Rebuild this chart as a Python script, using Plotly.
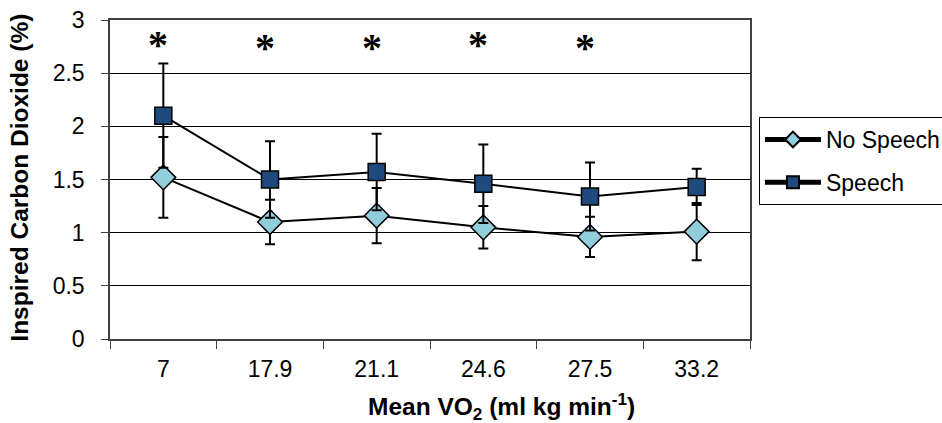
import plotly.graph_objects as go

categories = ["7", "17.9", "21.1", "24.6", "27.5", "33.2"]
no_speech = [1.52, 1.10, 1.16, 1.05, 0.96, 1.01]
no_speech_err = [0.38, 0.21, 0.26, 0.20, 0.19, 0.27]
speech = [2.10, 1.50, 1.57, 1.46, 1.34, 1.43]
speech_err = [0.49, 0.36, 0.36, 0.37, 0.32, 0.17]
star_categories = ["7", "17.9", "21.1", "24.6", "27.5"]
star_y = [2.77, 2.74, 2.74, 2.77, 2.74]

FONT = "Liberation Sans, Arial, sans-serif"

fig = go.Figure()
fig.add_trace(go.Scatter(
    x=categories, y=no_speech, name="No Speech", mode="lines+markers",
    legendgroup="a",
    line=dict(color="black", width=2),
    marker=dict(symbol="diamond", size=19, color="#92CDDC", line=dict(color="black", width=1.5)),
    error_y=dict(type="data", array=no_speech_err, visible=True, color="black", thickness=2, width=5),
))
fig.add_trace(go.Scatter(
    x=categories, y=speech, name="Speech", mode="lines+markers",
    legendgroup="b",
    line=dict(color="black", width=2),
    marker=dict(symbol="square", size=17, color="#1F4A7E", line=dict(color="black", width=1.5)),
    error_y=dict(type="data", array=speech_err, visible=True, color="black", thickness=2, width=5),
))

for c, yv in zip(star_categories, star_y):
    fig.add_annotation(x=categories.index(c), y=yv, text="<b>*</b>", showarrow=False,
                       xref="x", yref="y", xshift=-5,
                       font=dict(family="Liberation Serif, Times New Roman, serif", size=40, color="black"))

# axis titles as annotations (x title is centred on the whole chart area in the original)
fig.add_annotation(xref="paper", yref="paper", x=0.611, y=-0.213, xanchor="center", yanchor="middle",
                   text='<b>Mean VO<sub style="font-size:85%">2</sub> (ml kg min<sup>-1</sup>)</b>',
                   showarrow=False, font=dict(family=FONT, size=24.5, color="black"))
fig.add_annotation(xref="paper", yref="paper", x=-0.141, y=0.505, xanchor="center", yanchor="middle",
                   text="<b>Inspired Carbon Dioxide (%)</b>", showarrow=False, textangle=-90,
                   font=dict(family=FONT, size=24.5, color="black"))

fig.update_layout(
    width=942, height=423,
    margin=dict(l=110, r=192, t=20, b=84, autoexpand=False),
    paper_bgcolor="white", plot_bgcolor="white",
    font=dict(family=FONT, size=22, color="black"),
    showlegend=True,
    legend=dict(
        x=1.014, y=0.696, xanchor="left", yanchor="top",
        bordercolor="black", borderwidth=1, bgcolor="white",
        font=dict(family=FONT, size=23, color="black"),
        traceorder="grouped", tracegroupgap=10, itemsizing="constant", itemwidth=56,
    ),
    xaxis=dict(
        type="category", range=[-0.5, 5.5], showgrid=False, showline=True, linecolor="#404040", linewidth=1.5,
        mirror=True, ticks="outside", tickson="boundaries", ticklen=8, tickcolor="#404040",
        tickfont=dict(size=23), tickangle=0, ticklabelstandoff=9, automargin=False,
    ),
    yaxis=dict(
        range=[0, 3], dtick=0.5, showgrid=True, gridcolor="black", gridwidth=1,
        showline=True, linecolor="#404040", linewidth=1.5, mirror=True,
        ticks="outside", ticklen=7, tickcolor="#404040", zeroline=False,
        tickfont=dict(size=23), ticklabelstandoff=12, automargin=False,
    ),
)

fig.write_html("out.html")
